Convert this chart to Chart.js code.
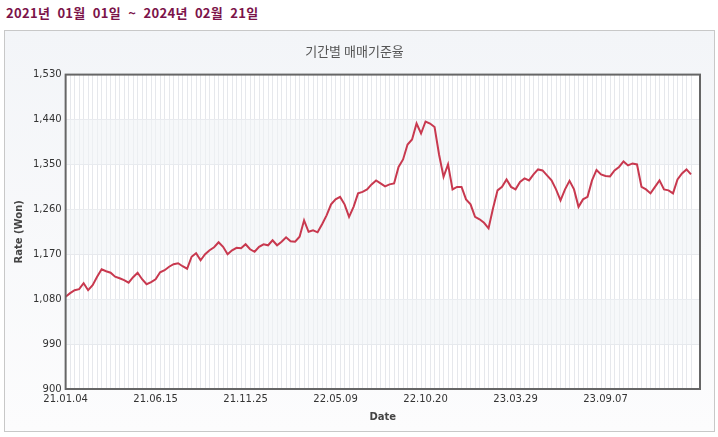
<!DOCTYPE html>
<html><head><meta charset="utf-8">
<script src="https://cdn.jsdelivr.net/npm/chart.js@4"></script>
<style>
body{margin:0;background:#fff;font-family:"Noto Sans CJK KR","Noto Sans",sans-serif}
#hd{position:absolute;left:6px;top:3px;font-size:13px;font-weight:bold;color:#7b1349;word-spacing:4px;letter-spacing:0.3px}
#box{position:absolute;left:4px;top:30px;width:709px;height:400px;border:1px solid #c8c8c8;background:linear-gradient(#f3f5f8,#fcfcfd)}
</style></head><body>
<div id="hd">2021년 01월 01일 ~ 2024년 02월 21일</div>
<div id="box"><canvas id="c" width="709" height="400"></canvas></div>
<script>
// tick labels every 20 points
const tickLabels = ["21.01.04","21.06.15","21.11.25","22.05.09","22.10.20","23.03.29","23.09.07"];
const rates = [1085,1092,1098,1100,1112,1098,1108,1125,1140,1136,1133,1125,1122,1118,1113,1124,1133,1120,1110,1114,
1120,1134,1138,1145,1150,1152,1146,1141,1165,1172,1158,1170,1178,1184,1194,1185,1170,1178,1183,1182,
1190,1180,1175,1185,1190,1188,1198,1188,1195,1204,1196,1195,1205,1238,1215,1218,1214,1230,1248,1270,
1280,1285,1270,1245,1265,1292,1295,1300,1310,1318,1312,1306,1310,1312,1345,1360,1390,1400,1432,1412,
1436,1432,1425,1370,1325,1350,1300,1305,1305,1280,1270,1245,1240,1233,1222,1262,1298,1305,1320,1305,
1300,1315,1322,1318,1330,1340,1338,1328,1318,1300,1278,1300,1317,1300,1265,1280,1285,1318,1339,1330,
1327,1326,1338,1345,1356,1348,1352,1350,1305,1300,1292,1305,1318,1300,1298,1292,1320,1332,1340,1330,1335,1340];
const labels = rates.map((v, i) => i % 20 === 0 ? tickLabels[i / 20] : "");

const frame = {
  id: "frame",
  beforeDatasetsDraw(chart) {
    const {ctx, chartArea: a, scales: {y}} = chart;
    ctx.save();
    ctx.globalCompositeOperation = "destination-over";
    ctx.fillStyle = "#ffffff";
    ctx.fillRect(a.left, a.top, a.right - a.left, a.bottom - a.top);
    ctx.restore();
    ctx.save();
    for (let v = 900; v < 1530; v += 90) {
      if (((v - 900) / 90) % 2 === 1) {
        ctx.fillStyle = "rgba(240,243,247,0.6)";
        const t = y.getPixelForValue(v + 90), b = y.getPixelForValue(v);
        ctx.fillRect(a.left, t, a.right - a.left, b - t);
      }
    }
    ctx.restore();
  },
  afterDraw(chart) {
    const {ctx, chartArea: a} = chart;
    ctx.save();
    ctx.strokeStyle = "#666";
    ctx.lineWidth = 2;
    ctx.strokeRect(a.left, a.top, a.right - a.left, a.bottom - a.top);
    ctx.restore();
  }
};

new Chart(document.getElementById("c"), {
  type: "line",
  data: {
    labels: labels,
    datasets: [{
      data: rates,
      borderColor: "#c8394f",
      borderWidth: 2,
      pointRadius: 0,
      tension: 0
    }]
  },
  options: {
    responsive: false,
    animation: false,
    layout: {padding: {left: 4, right: 14, top: 0, bottom: 4}},
    plugins: {
      legend: {display: false},
      tooltip: {enabled: false},
      title: {display: true, text: "기간별 매매기준율", color: "#555", font: {size: 13, weight: "normal", family: "Noto Sans CJK KR"}, padding: {top: 12, bottom: 16}}
    },
    scales: {
      x: {
        grid: {color: "#e6e8ec", drawTicks: false},
        border: {display: false},
        ticks: {autoSkip: false, maxRotation: 0, color: "#333", font: {size: 10, family: "DejaVu Sans"}, padding: 4,
          callback: (v, i) => labels[i]},
        title: {display: true, text: "Date", color: "#444", font: {size: 10, weight: "bold", family: "DejaVu Sans"}, padding: {top: 2}}
      },
      y: {
        min: 900, max: 1530,
        grid: {color: "#e6e8ec", drawTicks: false},
        border: {display: false},
        ticks: {stepSize: 90, color: "#333", font: {size: 10, family: "DejaVu Sans"}, padding: 4,
          callback: v => v.toLocaleString("en-US")},
        title: {display: true, text: "Rate (Won)", color: "#444", font: {size: 10, weight: "bold", family: "DejaVu Sans"}}
      }
    }
  },
  plugins: [frame]
});
</script>
</body></html>
